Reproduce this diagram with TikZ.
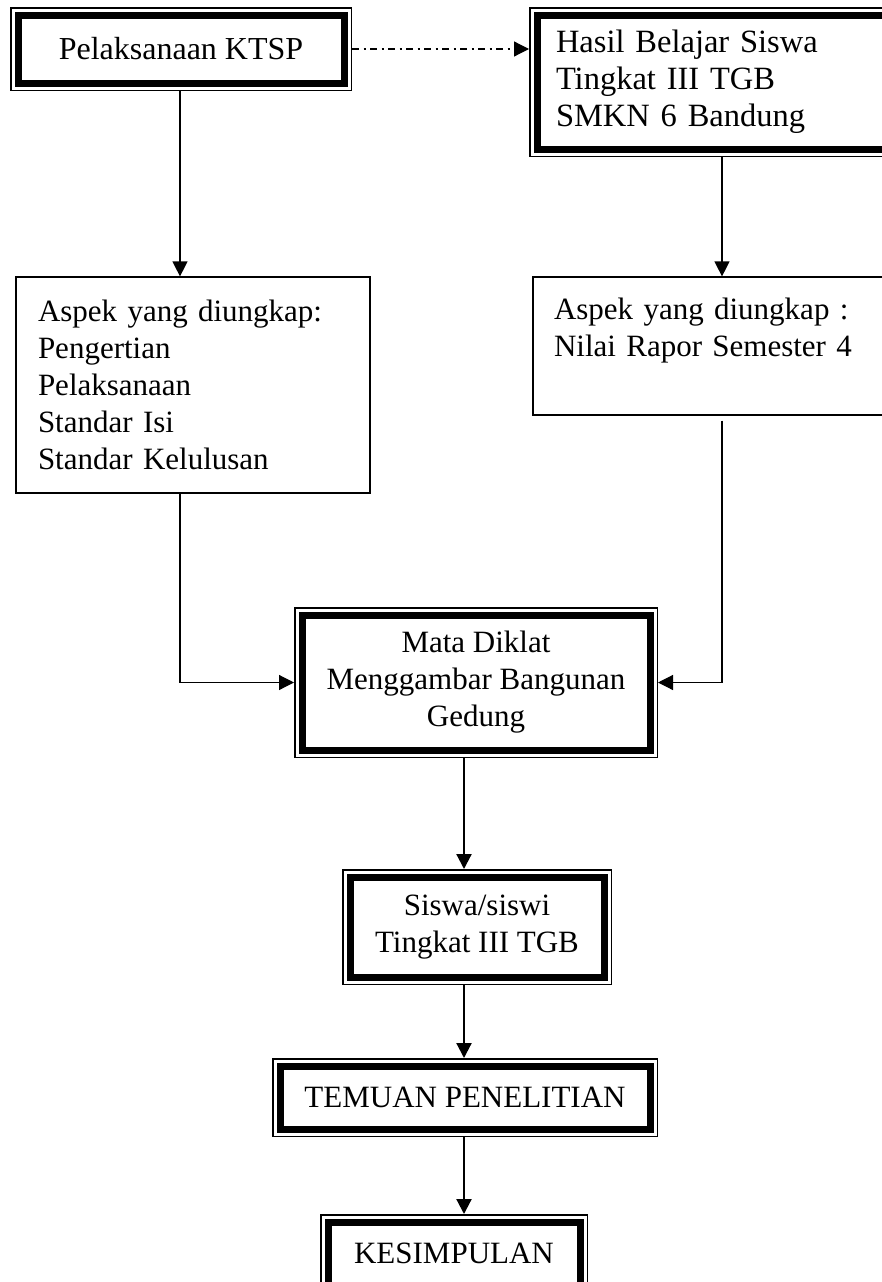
\documentclass[tikz,border=0pt]{standalone}
\usepackage{fontspec}
\setmainfont{Liberation Serif}
\usetikzlibrary{positioning,arrows.meta}

\tikzset{
	dblbox/.style={
		draw,
		line width=7pt,
		fill=white,
		align=center,
		inner sep=0pt
	},
	plainbox/.style={
		draw,
		line width=1.2pt,
		fill=white,
		align=left,
		inner sep=0pt
	},
	frame/.style={draw,line width=1.5pt},
	link/.style={-{Triangle[length=15pt,width=15pt]},line width=1.2pt},
	heavylink/.style={link,line width=2.2pt}
}

\begin{document}
\begin{tikzpicture}[x=1pt,y=-1pt,font=\fontsize{31}{37}\selectfont]
	
	\useasboundingbox (0,0) rectangle (882,1282);
	
	\node[
	dblbox,
	font=\fontsize{32}{37}\selectfont,
	minimum width=326pt,
	minimum height=68pt
	]
	(pel) at (181,49)
	{Pelaksanaan KTSP};
	
	\node[
	dblbox,
	font=\fontsize{32.5}{37}\selectfont,
	align=left,
	text width=310pt,
	minimum width=348pt,
	minimum height=134pt
	]
	(hasil) at (711,82)
	{Hasil Belajar Siswa\\Tingkat III TGB\\SMKN 6 Bandung};
	
	\node[
	plainbox,
	text width=310pt,
	minimum width=354pt,
	minimum height=216pt
	]
	(asp1) at (193,385)
	{Aspek yang diungkap:\\Pengertian\\Pelaksanaan\\Standar Isi\\Standar Kelulusan};
	
	\node[
	plainbox,
	text width=317pt,
	minimum width=359pt,
	minimum height=138pt
	]
	(asp2) at (712.5,346)
	{Aspek yang diungkap :\\Nilai Rapor Semester 4\\\mbox{}};
	
	\node[
	dblbox,
	minimum width=348pt,
	minimum height=135pt
	]
	(mata) at (476,682.5)
	{Mata Diklat\\Menggambar Bangunan\\Gedung};
	
	\node[
	dblbox,
	minimum width=254pt,
	minimum height=100pt
	]
	(siswa) at (477,927)
	{Siswa/siswi\\Tingkat III TGB};
	
	\node[
	dblbox,
	minimum width=370pt,
	minimum height=63pt
	]
	(temuan) at (465,1097.5)
	{TEMUAN PENELITIAN};
	
	\node[
	dblbox,
	minimum width=252pt,
	minimum height=63pt
	]
	(simpul) at (454,1253.5)
	{KESIMPULAN};
	
	% thin outer line of the double boxes
	\foreach \n in {pel,hasil,mata,siswa,temuan,simpul}
	\draw[frame] ([shift={(-3.75pt,-3.75pt)}]\n.south west) rectangle ([shift={(3.75pt,3.75pt)}]\n.north east);
	
	\coordinate (lcol) at (180,0);
	\coordinate (rcol) at (722,0);
	\coordinate (mcol) at (464,0);
	
	\draw[link,dash pattern=on 7pt off 4.5pt on 2pt off 4.5pt,shorten <=4.5pt,shorten >=4.5pt] (pel.east) -- (pel.east -| hasil.west);
	\draw[link,shorten <=4.5pt] (pel.south -| lcol) -- (asp1.north -| lcol);
	\draw[link,shorten <=4.5pt] (hasil.south -| rcol) -- (asp2.north -| rcol);
	\draw[link,shorten >=4.5pt] (asp1.south -| lcol) |- (mata.west);
	\draw[link,shorten <=5pt,shorten >=4.5pt] (asp2.south -| rcol) |- (mata.east);
	\draw[heavylink,shorten <=4.5pt,shorten >=4.5pt] (mata.south -| mcol) -- (siswa.north -| mcol);
	\draw[heavylink,shorten <=4.5pt,shorten >=4.5pt] (siswa.south -| mcol) -- (temuan.north -| mcol);
	\draw[heavylink,shorten <=4.5pt,shorten >=4.5pt] (temuan.south -| mcol) -- (simpul.north -| mcol);
	
\end{tikzpicture}
\end{document}
